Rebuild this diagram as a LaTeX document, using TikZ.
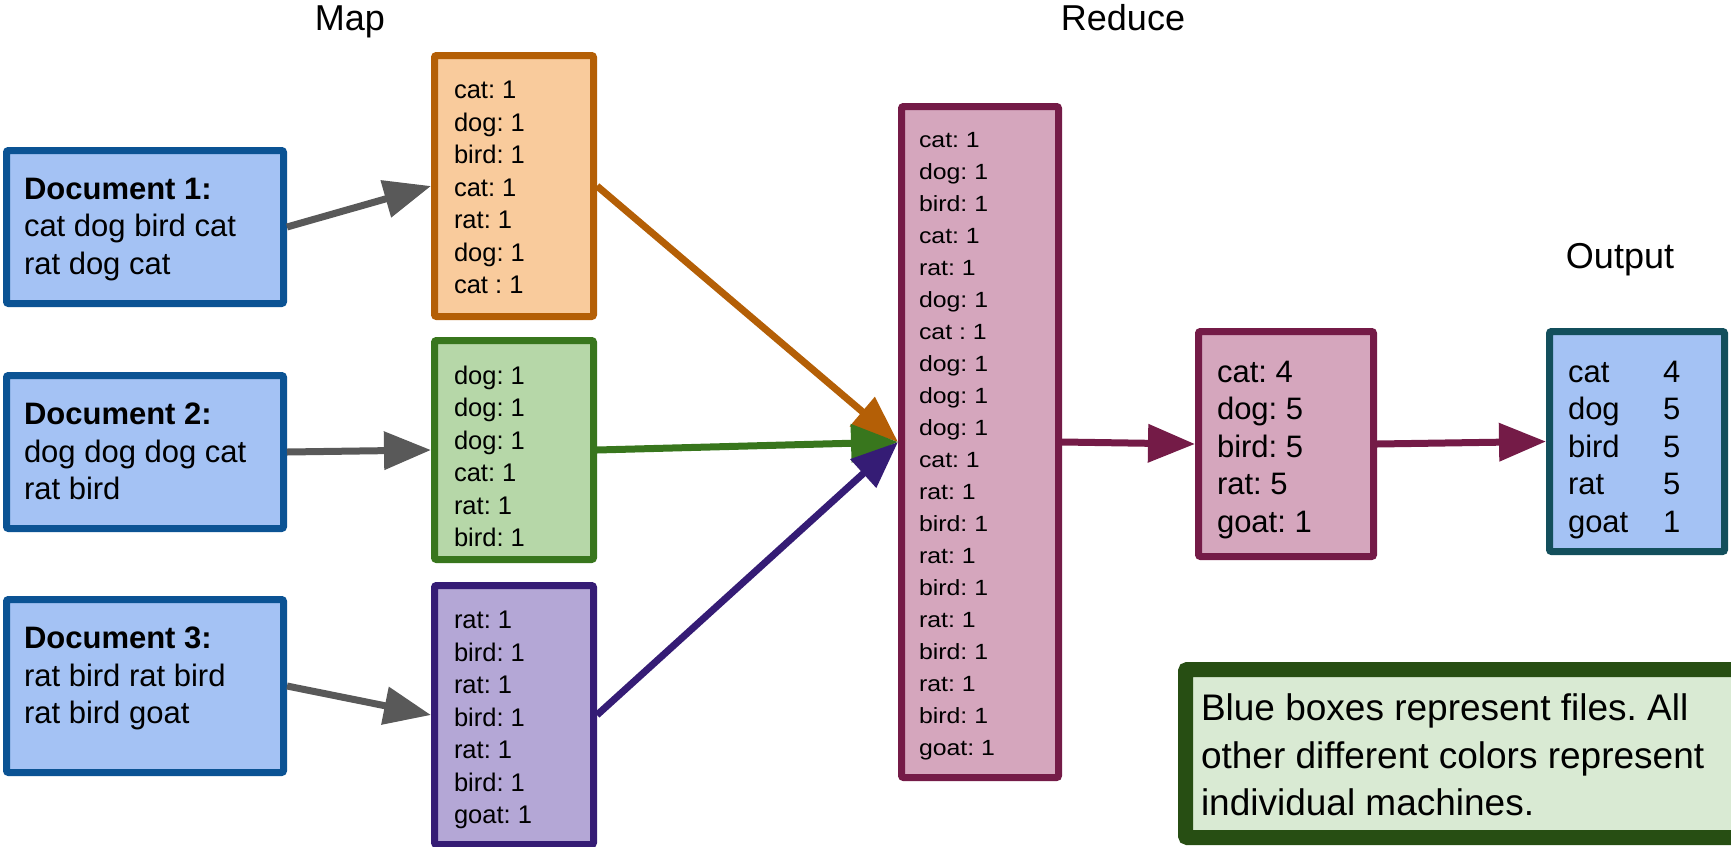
\documentclass[tikz,border=0pt]{standalone}
\usepackage{fontspec}
\setmainfont{Liberation Sans}
\newfontfamily\widefont[FakeStretch=1.13]{Liberation Sans}
\usetikzlibrary{arrows.meta}
\frenchspacing

\definecolor{docfill}{HTML}{A4C2F4}
\definecolor{docline}{HTML}{0B5394}
\definecolor{orangefill}{HTML}{F9CB9C}
\definecolor{orangeline}{HTML}{B45F06}
\definecolor{greenfill}{HTML}{B6D7A8}
\definecolor{greenline}{HTML}{38761D}
\definecolor{purplefill}{HTML}{B4A7D6}
\definecolor{purpleline}{HTML}{351C75}
\definecolor{pinkfill}{HTML}{D5A6BD}
\definecolor{pinkline}{HTML}{741B47}
\definecolor{outline}{HTML}{134F5C}
\definecolor{notefill}{HTML}{D9EAD3}
\definecolor{noteline}{HTML}{274E13}
\definecolor{arrgray}{HTML}{595959}

\begin{document}
\begin{tikzpicture}[x=1pt, y=-1pt,
  box/.style={draw, line width=7pt, rounded corners=2pt},
  doc/.style={box, draw=docline, fill=docfill, minimum width=277pt, minimum height=153pt},
  mapbox/.style={box, minimum width=159pt},
  redbox/.style={box, draw=pinkline, fill=pinkfill, minimum width=157pt, minimum height=671pt},
  sumbox/.style={box, minimum width=175pt},
  notebox/.style={draw=noteline, fill=notefill, line width=15pt, rounded corners=2pt, minimum width=567pt, minimum height=168pt},
  txt/.style={inner sep=0pt, outer sep=0pt, anchor=north west, align=left},
  doctxt/.style={txt, font=\fontsize{31}{37.5}\selectfont},
  maptxt/.style={txt, font=\fontsize{25.5}{32.5}\selectfont},
  redtxt/.style={txt, font=\widefont\fontsize{22}{32}\selectfont},
  sumtxt/.style={txt, font=\fontsize{31}{37.5}\selectfont},
  notetxt/.style={txt, font=\fontsize{37}{47.5}\selectfont},
  heading/.style={font=\fontsize{36}{43}\selectfont, anchor=base},
  arr/.style={line width=7pt, -{Triangle[length=47pt,width=37pt]}}]

\useasboundingbox (0,0) rectangle (1731,846);
\clip (0,0) rectangle (1731,846);

% Stage titles
\node[heading] (maphead) at (350,30) {Map};
\node[heading] (redhead) at (1123,30) {Reduce};
\node[heading] (outhead) at (1620,268) {Output};

% Input documents
\node[doc] (doc1) at (145,227) {};
\node[doc] (doc2) at (145,452) {};
\node[doc, minimum height=173pt] (doc3) at (145,686) {};
\node[doctxt] (doc1txt) at ([shift={(21,31)}]doc1.north west) {\textbf{Document 1:}\\cat dog bird cat\\rat dog cat};
\node[doctxt] (doc2txt) at ([shift={(21,31)}]doc2.north west) {\textbf{Document 2:}\\dog dog dog cat\\rat bird};
\node[doctxt] (doc3txt) at ([shift={(21,31)}]doc3.north west) {\textbf{Document 3:}\\rat bird rat bird\\rat bird goat};

% Map machines
\node[mapbox, draw=orangeline, fill=orangefill, minimum height=261pt] (mapA) at (514,186) {};
\node[mapbox, draw=greenline, fill=greenfill, minimum height=219pt] (mapB) at (514,450) {};
\node[mapbox, draw=purpleline, fill=purplefill, minimum height=259pt] (mapC) at (514,715) {};
\node[maptxt] (mapAtxt) at ([shift={(23,29)}]mapA.north west) {cat: 1\\dog: 1\\bird: 1\\cat: 1\\rat: 1\\dog: 1\\cat : 1};
\node[maptxt] (mapBtxt) at ([shift={(23,29)}]mapB.north west) {dog: 1\\dog: 1\\dog: 1\\cat: 1\\rat: 1\\bird: 1};
\node[maptxt] (mapCtxt) at ([shift={(23,29)}]mapC.north west) {rat: 1\\bird: 1\\rat: 1\\bird: 1\\rat: 1\\bird: 1\\goat: 1};

% Reduce machines
\node[redbox] (red) at (980,442) {};
\node[redtxt] (redtxt) at ([shift={(21,29)}]red.north west) {cat: 1\\dog: 1\\bird: 1\\cat: 1\\rat: 1\\dog: 1\\cat : 1\\dog: 1\\dog: 1\\dog: 1\\cat: 1\\rat: 1\\bird: 1\\rat: 1\\bird: 1\\rat: 1\\bird: 1\\rat: 1\\bird: 1\\goat: 1};
\node[sumbox, draw=pinkline, fill=pinkfill, minimum height=225pt] (sum) at (1286,444) {};
\node[sumtxt] (sumtxt) at ([shift={(22,33)}]sum.north west) {cat: 4\\dog: 5\\bird: 5\\rat: 5\\goat: 1};

% Output file
\node[sumbox, draw=outline, fill=docfill, minimum height=220pt] (out) at (1637,441.5) {};
\node[sumtxt] (outtxt) at ([shift={(22,33)}]out.north west) {\makebox[95pt][l]{cat}4\\\makebox[95pt][l]{dog}5\\\makebox[95pt][l]{bird}5\\\makebox[95pt][l]{rat}5\\\makebox[95pt][l]{goat}1};

% Legend
\node[notebox] (note) at (1469,753.5) {};
\node[notetxt] (notetxt) at ([shift={(23,32)}]note.north west) {Blue boxes represent files. All\\other different colors represent\\individual machines.};

% Connectors
\draw[arr, arrgray] (doc1.east) -- (mapA.west);
\draw[arr, arrgray] (doc2.east) -- (mapB.west);
\draw[arr, arrgray] (doc3.east) -- (mapC.west);
\draw[arr, orangeline] (mapA.east) -- (red.west);
\draw[arr, greenline] (mapB.east) -- (red.west);
\draw[arr, purpleline] (mapC.east) -- (red.west);
\draw[arr, pinkline] (red.east) -- (sum.west);
\draw[arr, pinkline] (sum.east) -- (out.west);

\end{tikzpicture}
\end{document}
